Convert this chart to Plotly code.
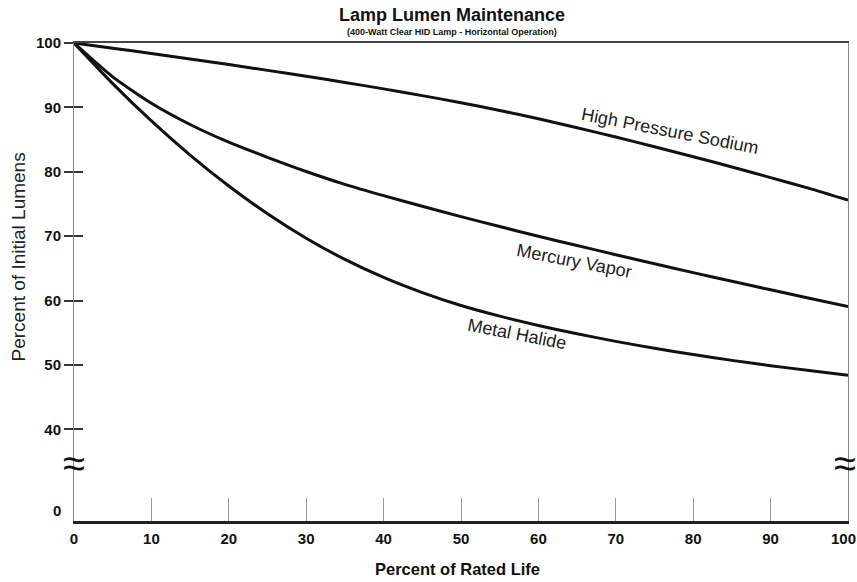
import plotly.graph_objects as go

# ---- data ----
rated_life = [0, 5, 10, 15, 20, 25, 30, 35, 40, 45, 50, 55, 60, 65, 70, 75, 80, 85, 90, 95, 100]
hps = [100, 99.2, 98.38, 97.53, 96.65, 95.75, 94.83, 93.88, 92.88, 91.83, 90.73, 89.53, 88.23,
       86.85, 85.4, 83.9, 82.35, 80.75, 79.1, 77.43, 75.6]
mercury = [100, 94.75, 90.65, 87.35, 84.6, 82.25, 80.05, 78.05, 76.3, 74.65, 73.05, 71.5, 70.0,
           68.55, 67.13, 65.73, 64.35, 63.0, 61.68, 60.38, 59.1]
metal_halide = [100, 93.7, 87.9, 82.6, 77.8, 73.5, 69.7, 66.4, 63.6, 61.25, 59.25, 57.6, 56.15,
                54.85, 53.68, 52.6, 51.63, 50.73, 49.9, 49.15, 48.4]

series_names = ["High Pressure Sodium", "Mercury Vapor", "Metal Halide"]
label_x = [77.0, 64.6, 57.2]
label_y = [86.4, 66.2, 54.8]

x_ticks = [0, 10, 20, 30, 40, 50, 60, 70, 80, 90, 100]
x_tick_text = ["0", "10", "20", "30", "40", "50", "60", "70", "80", "90", ""]  # "100" drawn separately
x_last_label = "100"
y_ticks = [40, 50, 60, 70, 80, 90, 100]
y_break_bottom = 25.79   # where the broken axis shows "0"
zero_label_pos = 27.37
break_pos = 34.76

FONT = "Liberation Sans, Arial, Helvetica, sans-serif"

fig = go.Figure()
for vals in [hps, mercury, metal_halide]:
    fig.add_trace(go.Scatter(x=rated_life, y=vals, mode="lines",
                             line=dict(color="#111111", width=3, shape="spline", smoothing=0.6),
                             showlegend=False, hoverinfo="skip"))
# invisible helper trace to instantiate overlay axes (inner ticks / top border)
fig.add_trace(go.Scatter(x=rated_life, y=hps, mode="lines", xaxis="x2", yaxis="y2",
                         line=dict(color="rgba(0,0,0,0)", width=0),
                         showlegend=False, hoverinfo="skip"))

fig.update_layout(
    width=857, height=582,
    margin=dict(l=74, r=9, t=43, b=61, autoexpand=False),
    paper_bgcolor="white", plot_bgcolor="white",
    font=dict(family=FONT, color="#111111"),
    xaxis=dict(range=[0, 100], tickvals=x_ticks, ticktext=x_tick_text, ticks="inside", ticklen=23,
               tickcolor="#999999", tickwidth=1, showgrid=False, zeroline=False,
               showline=True, linecolor="#222222", linewidth=2.5, automargin=False,
               tickfont=dict(family=FONT, size=15, color="#111111", weight="bold"),
               ticklabelstandoff=2, ticklabeloverflow="allow"),
    yaxis=dict(range=[y_break_bottom, 100], tickvals=y_ticks, ticks="outside", ticklen=9,
               tickcolor="#333333", tickwidth=1.5, showgrid=False, zeroline=False,
               showline=True, linecolor="#888888", linewidth=1, mirror=True, automargin=False,
               tickfont=dict(family=FONT, size=15, color="#111111", weight="bold"),
               ticklabeloverflow="allow"),
    xaxis2=dict(range=[0, 100], overlaying="x", side="top", showline=True,
                linecolor="#444444", linewidth=1.5, ticks="", showticklabels=False,
                showgrid=False, zeroline=False, automargin=False),
    yaxis2=dict(range=[y_break_bottom, 100], overlaying="y", side="left", anchor="x",
                tickvals=y_ticks, ticks="inside", ticklen=9, tickcolor="#333333",
                tickwidth=1.5, showticklabels=False, showgrid=False, zeroline=False,
                showline=False, automargin=False),
)

ann = []
ann.append(dict(text="<b>Lamp Lumen Maintenance</b>", x=0.488, y=1.0586, xref="paper", yref="paper",
                showarrow=False, font=dict(family=FONT, size=18, color="#111111"),
                xanchor="center", yanchor="middle"))
ann.append(dict(text="<b>(400-Watt Clear HID Lamp - Horizontal Operation)</b>", x=0.488, y=1.0235,
                xref="paper", yref="paper", showarrow=False,
                font=dict(family=FONT, size=9, color="#111111"),
                xanchor="center", yanchor="middle"))
ann.append(dict(text="<b>Percent of Rated Life</b>", x=0.4955, y=-0.1004, xref="paper", yref="paper",
                showarrow=False, font=dict(family=FONT, size=16.5, color="#111111"),
                xanchor="center", yanchor="middle"))
ann.append(dict(text="Percent of Initial Lumens", x=-0.0711, y=0.5534, xref="paper", yref="paper",
                showarrow=False, textangle=-90, font=dict(family=FONT, size=19, color="#222222"),
                xanchor="center", yanchor="middle"))
ann.append(dict(text="<b>0</b>", x=-0.0142, y=zero_label_pos, xref="paper", yref="y",
                showarrow=False, font=dict(family=FONT, size=15, color="#111111"),
                xanchor="right", yanchor="middle"))
ann.append(dict(text="<b>%s</b>" % x_last_label, x=100, y=-0.0356, xref="x", yref="paper",
                showarrow=False, xshift=-5, font=dict(family=FONT, size=15, color="#111111"),
                xanchor="center", yanchor="middle"))
for bx, xs in [(0, 0), (100, -3)]:
    ann.append(dict(text="≈", x=bx, y=break_pos, xref="x", yref="y", showarrow=False,
                    xshift=xs, font=dict(family=FONT, size=40, color="#111111"),
                    xanchor="center", yanchor="middle"))
for name, lx, ly in zip(series_names, label_x, label_y):
    ann.append(dict(text=name, x=lx, y=ly, xref="x", yref="y", showarrow=False,
                    textangle=11, font=dict(family=FONT, size=18, color="#222222"),
                    xanchor="center", yanchor="middle"))
fig.update_layout(annotations=ann)

fig.write_html("out.html", config={"displayModeBar": False},
               post_script="document.body.style.margin='0';document.body.style.overflow='hidden';")
